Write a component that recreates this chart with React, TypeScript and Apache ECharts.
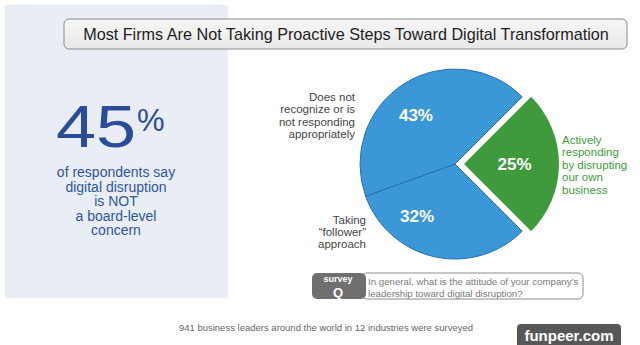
import React, { useEffect, useRef } from "react";
import * as echarts from "echarts";

const sliceNames = [
  "Actively responding by disrupting our own business",
  "Taking \"follower\" approach",
  "Does not recognize or is not responding appropriately",
];
const sliceValues = [25, 32, 43];
const sliceLabelLines = [
  ["Actively", "responding", "by disrupting", "our own", "business"],
  ["Taking", "\u201Cfollower\u201D", "approach"],
  ["Does not", "recognize or is", "not responding", "appropriately"],
];
const titleText = "Most Firms Are Not Taking Proactive Steps Toward Digital Transformation";
const bigStat = "45";
const statLines = ["of respondents say", "digital disruption", "is NOT", "a board-level", "concern"];
const questionLines = [
  "In general, what is the attitude of your company\u2019s",
  "leadership toward digital disruption?",
];
const footnote = "941 business leaders around the world in 12 industries were surveyed";
const watermark = "funpeer.com";

const FONT = "Liberation Sans, Arial, sans-serif";
const BLUE = "#3b97d6";
const GREEN = "#3e9a3a";

export default function App() {
  const ref = useRef<HTMLDivElement>(null);
  useEffect(() => {
    if (!ref.current) return;
    const chart = echarts.init(ref.current, undefined, { renderer: "svg" });

    const labelOffsets = [[6, -1], [-27, 3], [-12, -6]];
    const colors = [GREEN, BLUE, BLUE];

    const textBlock = (lines: string[], x: number, y0: number, lh: number, align: string, style: any) =>
      lines.map((t, i) => ({
        type: "text",
        x,
        y: y0 + i * lh,
        style: { text: t, align, verticalAlign: "middle", font: style.font, fill: style.fill },
        z: 10,
      }));

    chart.setOption({
      animation: false,
      backgroundColor: "#ffffff",
      series: [
        {
          type: "pie",
          center: [455, 164],
          radius: [0, 95],
          startAngle: 45,
          clockwise: true,
          selectedMode: "single",
          selectedOffset: 9,
          silent: true,
          data: sliceValues.map((v, i) => ({
            name: sliceNames[i],
            value: v,
            selected: i === 0,
            itemStyle: {
              color: colors[i],
              borderColor: i === 0 ? GREEN : "#2a6fb4",
              borderWidth: i === 0 ? 0 : 1,
            },
            label: { offset: labelOffsets[i] },
          })),
          label: {
            show: true,
            position: "inside",
            formatter: "{c}%",
            color: "#ffffff",
            fontSize: 17,
            fontWeight: "bold",
            fontFamily: FONT,
          },
          labelLine: { show: false },
          emphasis: { disabled: true },
        },
      ],
      graphic: [
        {
          type: "rect",
          shape: { x: 5, y: 5, width: 223, height: 293 },
          style: { fill: "#e9eef6" },
          z: 0,
        },
        {
          type: "rect",
          shape: { x: 64, y: 19, width: 563, height: 30, r: 5 },
          style: {
            fill: new echarts.graphic.LinearGradient(0, 0, 0, 1, [
              { offset: 0, color: "#f6f6f6" },
              { offset: 1, color: "#e9e9e9" },
            ]),
            stroke: "#8a8a8a",
            lineWidth: 1,
          },
          z: 5,
        },
        {
          type: "text",
          x: 346,
          y: 34,
          style: {
            text: titleText,
            align: "center",
            verticalAlign: "middle",
            font: `16.2px ${FONT}`,
            fill: "#1e1e1e",
          },
          z: 10,
        },
        {
          type: "text",
          x: 56,
          y: 126,
          scaleX: 1.2,
          style: {
            text: bigStat,
            align: "left",
            verticalAlign: "middle",
            font: `60px ${FONT}`,
            fill: "#2b4c9b",
          },
          z: 10,
        },
        {
          type: "text",
          x: 137,
          y: 120,
          style: {
            text: "%",
            align: "left",
            verticalAlign: "middle",
            font: `31px ${FONT}`,
            fill: "#2b4c9b",
          },
          z: 10,
        },
        ...textBlock(statLines, 116, 172, 14.5, "center", { font: `14px ${FONT}`, fill: "#2f55a0" }),
        ...textBlock(sliceLabelLines[2], 355, 97, 12.3, "right", { font: `11.5px ${FONT}`, fill: "#444444" }),
        ...textBlock(sliceLabelLines[1], 366, 220, 12, "right", { font: `11.5px ${FONT}`, fill: "#444444" }),
        ...textBlock(sliceLabelLines[0], 562, 140, 12.4, "left", { font: `11.5px ${FONT}`, fill: GREEN }),
        {
          type: "rect",
          shape: { x: 362, y: 273, width: 221, height: 26, r: 5 },
          style: { fill: "#ffffff", stroke: "#8c8c8c", lineWidth: 1 },
          z: 5,
        },
        {
          type: "rect",
          shape: { x: 312, y: 273, width: 54, height: 26, r: 5 },
          style: { fill: "#6f6f6f" },
          z: 6,
        },
        {
          type: "text",
          x: 338,
          y: 279,
          style: { text: "survey", align: "center", verticalAlign: "middle", font: `bold 9px ${FONT}`, fill: "#ffffff" },
          z: 10,
        },
        {
          type: "text",
          x: 338,
          y: 292,
          style: { text: "Q", align: "center", verticalAlign: "middle", font: `bold 13px ${FONT}`, fill: "#ffffff" },
          z: 10,
        },
        ...textBlock(questionLines, 368, 281, 12, "left", { font: `9.7px ${FONT}`, fill: "#7a7a7a" }),
        {
          type: "text",
          x: 326,
          y: 327,
          style: { text: footnote, align: "center", verticalAlign: "middle", font: `9.5px ${FONT}`, fill: "#666666" },
          z: 10,
        },
        {
          type: "rect",
          shape: { x: 517, y: 324, width: 104, height: 26, r: 4 },
          style: { fill: "#575757" },
          z: 6,
        },
        {
          type: "text",
          x: 569,
          y: 335,
          style: { text: watermark, align: "center", verticalAlign: "middle", font: `bold 15px ${FONT}`, fill: "#ffffff" },
          z: 10,
        },
      ],
    });
    return () => chart.dispose();
  }, []);
  return (
    <div
      ref={ref}
      style={{ position: "fixed", left: 0, top: 0, width: 640, height: 345 }}
    />
  );
}
